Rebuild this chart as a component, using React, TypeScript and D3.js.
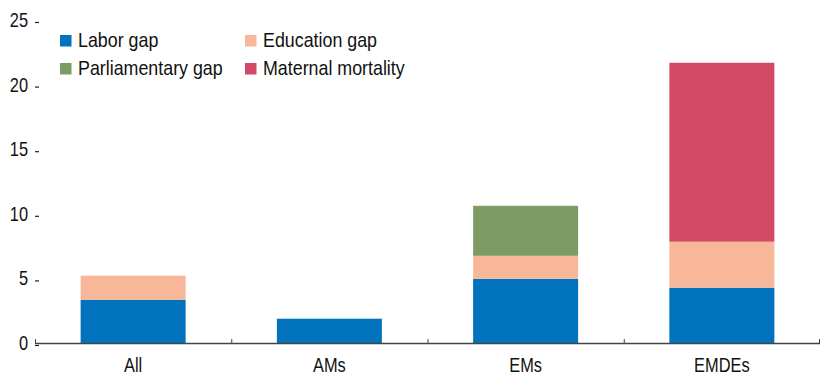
import React from "react";
import * as d3 from "d3";

const categories = ["All", "AMs", "EMs", "EMDEs"];
const seriesNames = ["Labor gap", "Education gap", "Parliamentary gap", "Maternal mortality"];
const laborGap = [3.35, 1.88, 4.97, 4.28];
const educationGap = [1.86, 0, 1.78, 3.56];
const parliamentaryGap = [0, 0, 3.87, 0];
const maternalMortality = [0, 0, 0, 13.85];
const yTicks = [0, 5, 10, 15, 20, 25];
const colors = ["#0173BC", "#F9B79A", "#7D9B64", "#D04B63"];

const W = 820, H = 376;
const FONT = "'Liberation Sans', Arial, sans-serif";

function T({ x, y, anchor = "start", dy = "0", fs = 20, sx = 0.82, children }: any) {
  return (
    <text
      transform={`translate(${x},${y}) scale(${sx},1)`}
      textAnchor={anchor}
      dy={dy}
      fontSize={fs}
      fill="#111"
    >
      {children}
    </text>
  );
}

export default function App() {
  const x = d3.scaleBand<string>().domain(categories).range([35, 820]).paddingInner(0).paddingOuter(0);
  const y = d3.scaleLinear().domain([0, 25]).range([343, 20]);
  const rows = categories.map((c, i) => ({
    cat: c,
    "Labor gap": laborGap[i],
    "Education gap": educationGap[i],
    "Parliamentary gap": parliamentaryGap[i],
    "Maternal mortality": maternalMortality[i],
  }));
  const stacked = d3.stack<any>().keys(seriesNames)(rows);
  const barW = x.bandwidth() * 0.535;
  const boundaries = categories.map((c) => x(c)!).concat([x.range()[1] - 1]);

  return (
    <svg width={W} height={H} style={{ position: "absolute", left: 0, top: 0 }} fontFamily={FONT}>
      {stacked.map((s, si) => (
        <g key={s.key} fill={colors[si]}>
          {s.map((d, i) =>
            d[1] - d[0] > 0 ? (
              <rect
                key={i}
                x={x(categories[i])! + (x.bandwidth() - barW) / 2}
                y={y(d[1])}
                width={barW}
                height={y(d[0]) - y(d[1])}
              />
            ) : null
          )}
        </g>
      ))}
      {yTicks.map((t) => (
        <g key={t}>
          <T x={28} y={y(t)} anchor="end" dy="0.35em">{t}</T>
          <line x1={35} x2={39} y1={y(t) + 2.5} y2={y(t) + 2.5} stroke="#222" strokeWidth={1.2} />
        </g>
      ))}
      <line x1={35} x2={820} y1={343.5} y2={343.5} stroke="#444" strokeWidth={1.3} />
      {boundaries.map((b, i) => (
        <line key={i} x1={b + 0.5} x2={b + 0.5} y1={343} y2={339} stroke="#444" strokeWidth={1} />
      ))}
      {categories.map((c) => (
        <T key={c} x={x(c)! + x.bandwidth() / 2} y={372} anchor="middle">{c}</T>
      ))}
      {seriesNames.map((n, i) => {
        const col = i % 2, row = Math.floor(i / 2);
        const lx = col === 0 ? 60 : 245;
        const ly = 41 + row * 28;
        return (
          <g key={n}>
            <rect x={lx} y={ly - 6} width={11.5} height={11.5} fill={colors[i]} />
            <T x={lx + 18} y={ly + 6} fs={21} sx={0.85}>{n}</T>
          </g>
        );
      })}
    </svg>
  );
}
